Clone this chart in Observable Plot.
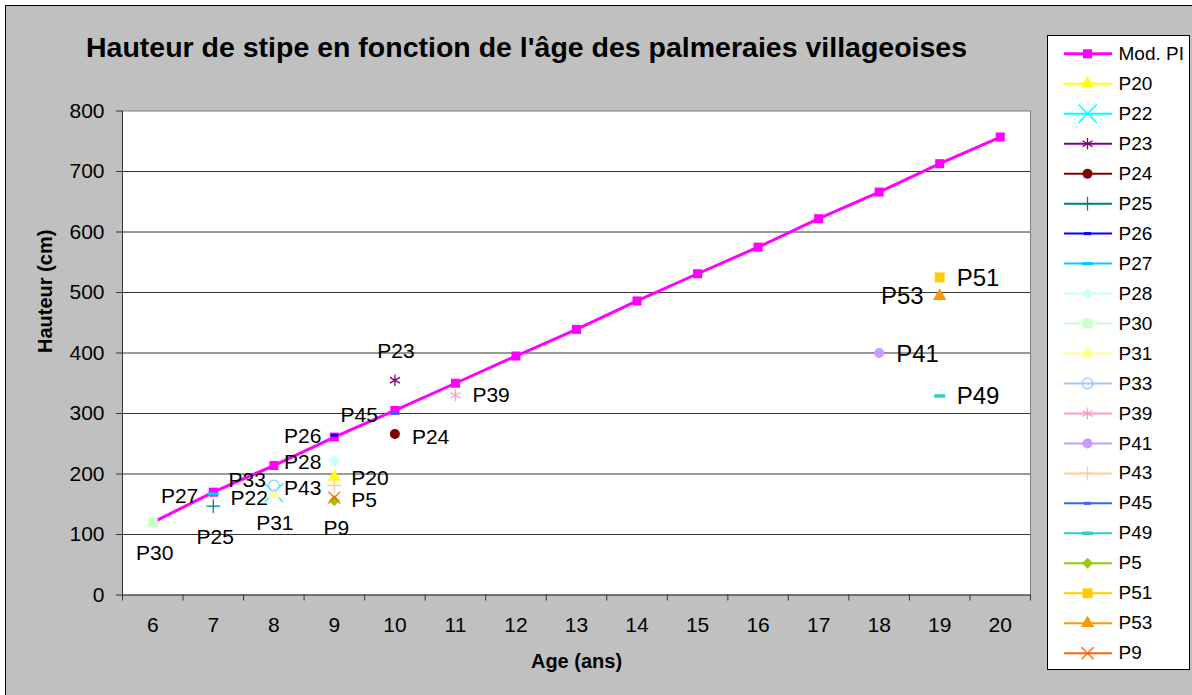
<!DOCTYPE html>
<html><head><meta charset="utf-8">
<script src="https://cdn.jsdelivr.net/npm/d3@7"></script>
<script src="https://cdn.jsdelivr.net/npm/@observablehq/plot@0.6"></script>
<style>
body{margin:0;background:#fff;font-family:"Liberation Sans",Arial,sans-serif;}
#wrap{position:relative;width:1192px;height:695px;overflow:hidden;}
#bg{position:absolute;left:5px;top:5px;width:1200px;height:700px;background:#c0c0c0;border-left:1.5px solid #000;border-top:1.5px solid #000;}
#main{position:absolute;left:0;top:0;}
#legend{position:absolute;left:1047px;top:35px;width:141px;height:633px;background:#fff;border:1px solid #000;}
#legend svg, #main svg{display:block;}
</style></head>
<body><div id="wrap"><div id="bg"></div><div id="main"></div><div id="legend"></div></div>
<script>
// ---- data ----
const title = "Hauteur de stipe en fonction de l'âge des palmeraies villageoises";
const ages = [6,7,8,9,10,11,12,13,14,15,16,17,18,19,20];
const modPI = [120,170,214,261,305,350,395,439,486,531,575,622,666,713,757];
const seriesNames = ["P20","P22","P23","P24","P25","P26","P27","P28","P30","P31","P33","P39","P41","P43","P45","P49","P5","P51","P53","P9"];
const seriesAges =  [9,8,10,10,7,9,7,9,6,8,8,11,18,9,10,19,9,19,19,9];
const seriesHeights = [195,169,355,266,147,264,167,222,120,167,181,330,400,181,300,329,156,525,494,161];
const yTicks = [0,100,200,300,400,500,600,700,800];
const legendNames = ["Mod. PI", ...seriesNames];

// ---- styles ----
function dash(w, h){ return {draw(ctx){ ctx.rect(-w/2, -h/2, w, h); }}; }
const seriesStyle = {
  "Mod. PI": {color:"#ff00ff", symbol:"square", r:5.1, filled:true, lw:3},
  P20: {color:"#ffff00", symbol:"triangle", r:4.8, filled:true},
  P22: {color:"#00ffff", symbol:"times", r:8.5, filled:false, sw:1.3},
  P23: {color:"#800080", symbol:"asterisk", r:5.5, filled:false, sw:1.3},
  P24: {color:"#800000", symbol:"circle", r:5, filled:true},
  P25: {color:"#008080", symbol:"plus", r:4.5, filled:false, sw:1.3},
  P26: {color:"#0000ff", symbol:dash(7,3), filled:true},
  P27: {color:"#00ccff", symbol:dash(11,3), filled:true},
  P28: {color:"#ccffff", symbol:"diamond2", r:5.5, filled:true},
  P30: {color:"#ccffcc", symbol:"square", r:5.6, filled:true},
  P31: {color:"#ffff99", symbol:"triangle", r:4.8, filled:true},
  P33: {color:"#99ccff", symbol:"circle", r:5.3, filled:false, sw:1.3},
  P39: {color:"#ff99cc", symbol:"asterisk", r:5.5, filled:false, sw:1.3},
  P41: {color:"#cc99ff", symbol:"circle", r:5, filled:true},
  P43: {color:"#ffcc99", symbol:"plus", r:4.5, filled:false, sw:1.3},
  P45: {color:"#3366ff", symbol:dash(7,3), filled:true},
  P49: {color:"#33cccc", symbol:dash(11,3.5), filled:true},
  P5:  {color:"#99cc00", symbol:"diamond2", r:5, filled:true},
  P51: {color:"#ffcc00", symbol:"square", r:5.6, filled:true},
  P53: {color:"#ff9900", symbol:"triangle", r:5, filled:true},
  P9:  {color:"#ff6600", symbol:"times", r:5.5, filled:false, sw:1.3}
};
// label placement (anchor, dx, dy, font size)
const labelPlace = {
  P20:["start",17,1,21], P22:["end",-6,6,21], P23:["middle",1,-29,21], P24:["start",17,3,21],
  P25:["middle",2,31,21], P26:["end",-13,1,21], P27:["end",-15,2,21], P28:["end",-13,2,21],
  P30:["middle",2,31,21], P31:["middle",1,29,21], P33:["end",-8,-5,21], P39:["start",17,0,21],
  P41:["start",17,1,24], P43:["end",-13,3,21], P45:["end",-17,2,21], P49:["start",17,0,24],
  P5:["start",17,0,21], P51:["start",17,1,24], P53:["end",-16,0,24], P9:["middle",2,31,21]
};
const FONT = "Liberation Sans, Arial, sans-serif";

function dotMark(data, opts, s){
  return Plot.dot(data, {...opts, symbol:s.symbol, r:s.r ?? 5,
    fill: s.filled ? s.color : "none", stroke: s.filled ? "none" : s.color, strokeWidth: s.sw ?? 1});
}

// ---- tables ----
const modTable = ages.map((a,i)=>({age:a, h:modPI[i]}));
const pts = seriesNames.map((n,i)=>({name:n, age:seriesAges[i], h:seriesHeights[i]}));
const catEdges = [...ages.map(a=>a-0.5), ages[ages.length-1]+0.5];

const marks = [
  Plot.frame({fill:"#fff", stroke:"#808080"}),
  Plot.gridY(yTicks.filter(t=>t>0 && t<800), {stroke:"#333", strokeOpacity:1}),
  Plot.axisY(yTicks, {tickSize:6, tickPadding:12, fontSize:21, label:null, stroke:"#333"}),
  Plot.axisX(catEdges, {tickSize:6, tickFormat:()=> "", label:null, stroke:"#333"}),
  Plot.axisX(ages, {tickSize:0, tickPadding:22, fontSize:21, label:null}),
  Plot.ruleX([5.5], {stroke:"#333"}),
  Plot.ruleY([0], {stroke:"#333"}),
  Plot.line(modTable, {x:"age", y:"h", stroke:seriesStyle["Mod. PI"].color, strokeWidth:3}),
  dotMark(modTable, {x:"age", y:"h"}, seriesStyle["Mod. PI"])
];
for (const p of pts) marks.push(dotMark([p], {x:"age", y:"h"}, seriesStyle[p.name]));
for (const p of pts) {
  const [anchor, dx, dy, fs] = labelPlace[p.name];
  marks.push(Plot.text([p], {x:"age", y:"h", text:"name", textAnchor:anchor, dx, dy, fontSize:fs, fill:"#000"}));
}
marks.push(Plot.text(["Hauteur (cm)"], {text:d=>d, frameAnchor:"left", lineAnchor:"middle", dx:-77, rotate:-90, fontSize:20, fontWeight:"bold"}));
marks.push(Plot.text(["Age (ans)"], {text:d=>d, frameAnchor:"bottom", lineAnchor:"middle", dy:67, fontSize:20, fontWeight:"bold"}));
marks.push(Plot.text([title], {text:d=>d, frameAnchor:"top", lineAnchor:"middle", dx:-50, dy:-63, fontSize:28.5, fontWeight:"bold"}));

const main = Plot.plot({
  width:1040, height:695,
  marginLeft:122, marginRight:10, marginTop:110.5, marginBottom:100.5,
  style:{background:"transparent", fontFamily:FONT, color:"#000", overflow:"visible"},
  x:{type:"linear", domain:[5.5, 20.5]},
  y:{type:"linear", domain:[0, 800]},
  marks
});
document.getElementById("main").appendChild(main);

// ---- legend ----
const lmarks = [];
for (const name of legendNames) {
  const s = seriesStyle[name];
  lmarks.push(Plot.ruleY([name], {y:d=>d, x1:16, x2:64, stroke:s.color, strokeWidth:s.lw ?? 2}));
  lmarks.push(dotMark([name], {x:()=>39, y:d=>d}, s));
  lmarks.push(Plot.text([name], {x:()=>70, y:d=>d, text:d=>d, textAnchor:"start", fontSize:19, fill:"#000"}));
}
const legend = Plot.plot({
  width:141, height:633, margin:0,
  style:{background:"transparent", fontFamily:FONT, color:"#000", overflow:"visible"},
  x:{type:"identity", axis:null},
  y:{type:"point", domain:legendNames, range:[17.3, 616.7], padding:0, round:false, axis:null},
  marks:lmarks
});
document.getElementById("legend").appendChild(legend);
</script>
</body></html>
